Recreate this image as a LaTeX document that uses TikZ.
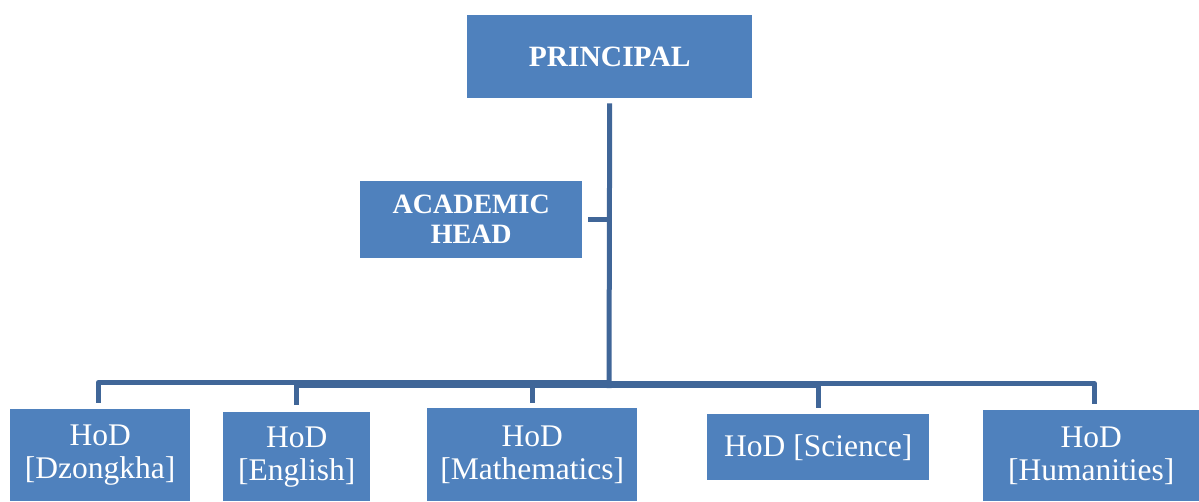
\documentclass[tikz,border=0pt]{standalone}
\usepackage{fontspec}
\setmainfont{Liberation Serif}
\definecolor{boxblue}{HTML}{4F81BD}
\definecolor{linkblue}{RGB}{64,102,152}
\begin{document}
\begin{tikzpicture}[x=1pt,y=-1pt,
  orgbox/.style={fill=boxblue, draw=none, text=white, align=center, inner sep=0pt, anchor=north west},
  headtext/.style={font=\bfseries\fontsize{29.5}{30}\selectfont},
  hodtext/.style={font=\fontsize{31.5}{33}\selectfont},
  conn/.style={draw=linkblue, line width=5pt, line join=round}]
\useasboundingbox (0,0) rectangle (1199,501);

% top level
\node[orgbox, headtext, minimum width=285pt, minimum height=83pt] (pr) at (467,15) {PRINCIPAL};
\node[orgbox, font=\bfseries\fontsize{28}{30}\selectfont, minimum width=222pt, minimum height=77pt] (ah) at (360,181) {ACADEMIC\\HEAD};

% heads of department
\node[orgbox, hodtext, minimum width=180pt, minimum height=92pt] (dz) at (10,409) {HoD\\{[}Dzongkha{]}};
\node[orgbox, hodtext, minimum width=147pt, minimum height=89pt] (en) at (223,412) {HoD\\{[}English{]}};
\node[orgbox, hodtext, minimum width=210pt, minimum height=93pt] (ma) at (427,408) {HoD\\{[}Mathematics{]}};
\node[orgbox, hodtext, minimum width=222pt, minimum height=66pt] (sc) at (707,414) {HoD {[}Science{]}};
\node[orgbox, hodtext, minimum width=216pt, minimum height=91pt] (hu) at (983,410) {HoD\\{[}Humanities{]}};

% trunk below the principal
\coordinate (tr) at ([yshift=-5pt]pr.south);
\draw[conn] (tr) -- (609,388);
\draw[conn] ([xshift=6pt]ah.east) -- (ah.east -| tr);

% elbow links to each department
\draw[conn] (609,382.5) -| ([xshift=-2pt,yshift=6pt]dz.north);
\draw[conn] (609,385) -| ([yshift=7pt]en.north);
\draw[conn] (609,382) -| ([yshift=5pt]ma.north);
\draw[conn] (609,385) -| ([yshift=6pt]sc.north);
\draw[conn] (609,383.5) -| ([xshift=3pt,yshift=6pt]hu.north);
\end{tikzpicture}
\end{document}
